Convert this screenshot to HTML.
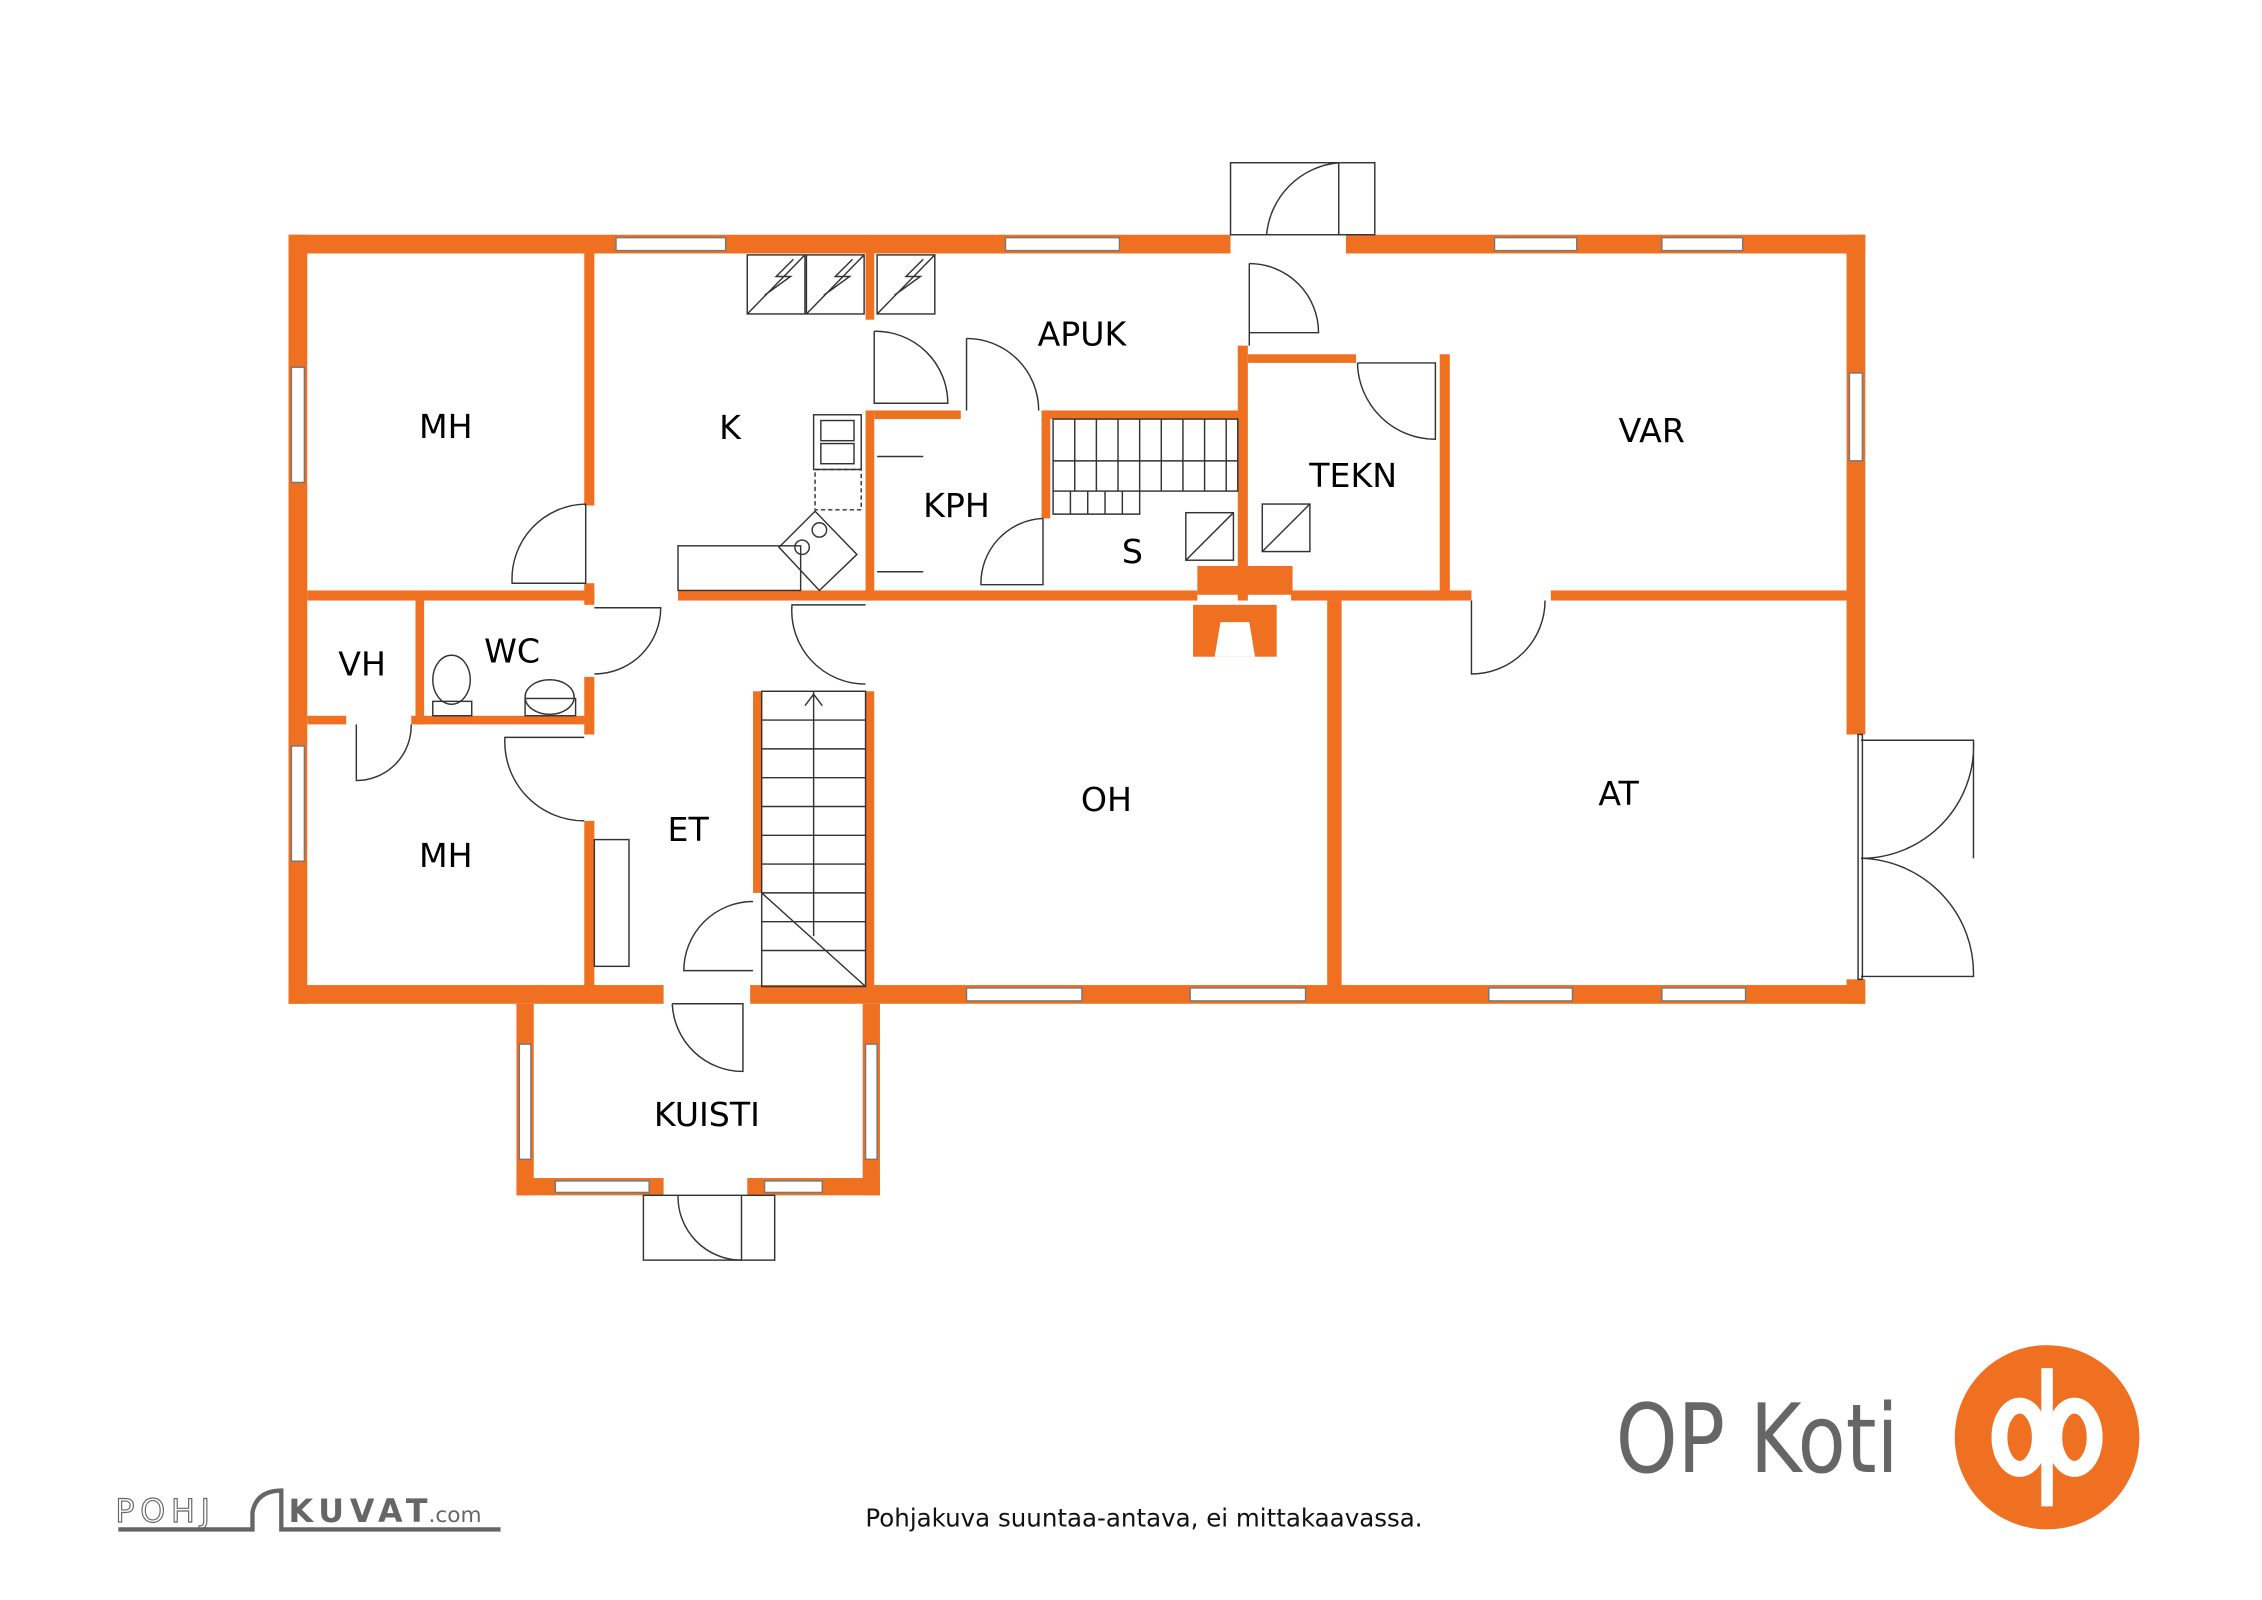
<!DOCTYPE html>
<html><head><meta charset="utf-8"><style>
html,body{margin:0;padding:0;background:#fff;width:2262px;height:1600px;overflow:hidden}
svg{display:block}
text{font-family:"DejaVu Sans","Liberation Sans",sans-serif}
</style></head><body>
<svg width="2262" height="1600" viewBox="0 0 1568 1111" preserveAspectRatio="none" xmlns="http://www.w3.org/2000/svg">
<g fill="#f07022">
<rect x="200" y="163" width="1093" height="13"/>
<rect x="200" y="163" width="13" height="534"/>
<rect x="1280" y="163" width="13" height="534"/>
<rect x="200" y="684" width="1093" height="13"/>
<rect x="405" y="176" width="7" height="175"/>
<rect x="405" y="405" width="7" height="15"/>
<rect x="213" y="410" width="199" height="7"/>
<rect x="470" y="410" width="136" height="7"/>
<rect x="600" y="410" width="230" height="7"/>
<rect x="895" y="410" width="125" height="7"/>
<rect x="1075" y="410" width="205" height="7"/>
<rect x="600" y="176" width="6" height="46"/>
<rect x="600" y="285" width="6" height="132"/>
<rect x="606" y="285" width="60" height="6"/>
<rect x="722" y="285" width="140" height="6"/>
<rect x="722" y="285" width="6" height="75"/>
<rect x="858" y="240" width="7" height="177"/>
<rect x="865" y="246" width="75" height="6"/>
<rect x="998" y="246" width="7" height="171"/>
<rect x="830" y="393" width="66" height="20"/>
<rect x="827" y="420" width="58" height="36"/>
<rect x="920" y="417" width="10" height="270"/>
<rect x="600" y="480" width="6" height="205"/>
<rect x="522" y="480" width="6" height="140"/>
<rect x="288" y="417" width="6" height="86"/>
<rect x="213" y="497" width="32" height="6"/>
<rect x="285" y="497" width="127" height="6"/>
<rect x="405" y="470" width="7" height="40"/>
<rect x="405" y="570" width="7" height="117"/>
<rect x="358" y="697" width="12" height="133"/>
<rect x="598" y="697" width="12" height="133"/>
<rect x="358" y="818" width="252" height="12"/>
</g>
<polygon points="842,456 846,432 866,432 870,456" fill="#fff"/>
<g fill="#fff">
<rect x="853" y="160" width="80" height="18"/>
<rect x="460" y="682" width="60" height="17"/>
<rect x="1278" y="510" width="17" height="170"/>
<rect x="460" y="816" width="58" height="16"/>
<rect x="240" y="495" width="45" height="10"/>
</g>
<g fill="#fff" stroke="#777" stroke-width="1">
<rect x="427" y="165" width="76" height="9"/>
<rect x="697" y="165" width="79" height="9"/>
<rect x="1036" y="165" width="57" height="9"/>
<rect x="1152" y="165" width="56" height="9"/>
<rect x="202" y="255" width="9" height="80"/>
<rect x="202" y="518" width="9" height="80"/>
<rect x="1282" y="259" width="9" height="61"/>
<rect x="670" y="686" width="80" height="9"/>
<rect x="825" y="686" width="80" height="9"/>
<rect x="1032" y="686" width="58" height="9"/>
<rect x="1152" y="686" width="58" height="9"/>
<rect x="360" y="725" width="8" height="80"/>
<rect x="600" y="725" width="8" height="80"/>
<rect x="385" y="820" width="65" height="8"/>
<rect x="530" y="820" width="40" height="8"/>
</g>
<g fill="none" stroke="#333" stroke-width="1">
<rect x="853" y="113" width="100" height="50"/>
<path d="M878 163 A55 55 0 0 1 928 113 M928 113 V163"/>
<path d="M866 183 V240 M866 183 A48 48 0 0 1 914 231 H866"/>
<path d="M406 350 V405 H355 A52 52 0 0 1 406 350"/>
<path d="M606 230 V280 H657 A50 50 0 0 0 606 230"/>
<path d="M670 235 V285 M670 235 A50 50 0 0 1 720 285"/>
<path d="M941 252 H995 V305 A54 54 0 0 1 941 252"/>
<path d="M723 360 V406 H680 A45 45 0 0 1 723 360"/>
<path d="M412 422 H458 A46 46 0 0 1 412 468"/>
<path d="M600 420 H549 A51 51 0 0 0 600 475"/>
<path d="M1020 417 V468 A51 51 0 0 0 1071 417"/>
<path d="M247 503 V542 A38 38 0 0 0 285 503"/>
<path d="M405 512 H350 A55 55 0 0 0 405 570"/>
<path d="M522 626 A48 48 0 0 0 474 674 H522"/>
<path d="M466 697 H515 V744 A49 49 0 0 1 466 697"/>
<rect x="446" y="830" width="91" height="45"/>
<path d="M470 830 A44 44 0 0 0 514 875 V830"/>
<path d="M1290 514 H1368 A78 78 0 0 1 1290 596 M1368 514 V596"/>
<path d="M1290 596 A80 80 0 0 1 1368 678 H1290"/>
<rect x="1288" y="510" width="3" height="170"/>
</g>
<g fill="none" stroke="#333" stroke-width="1">
<rect x="518" y="177" width="40" height="41"/><rect x="559" y="177" width="40" height="41"/><rect x="608" y="177" width="40" height="41"/>
<path d="M518 218 L558 177 M530 205 L548 192 L538 192 L550 180"/>
<path d="M559 218 L599 177 M571 205 L589 192 L579 192 L591 180"/>
<path d="M608 218 L648 177 M620 205 L638 192 L628 192 L640 180"/>
<rect x="470" y="379" width="85" height="31"/>
<rect x="564" y="288" width="33" height="38"/>
<rect x="569" y="292" width="23" height="14"/><rect x="569" y="308" width="23" height="14"/>
<rect x="565" y="326" width="32" height="28" stroke-dasharray="3 2"/>
<path d="M540 380 L565 355 L594 385 L568 410 Z"/>
<circle cx="556" cy="380" r="5"/><circle cx="568" cy="368" r="5"/>
<rect x="730" y="291" width="128" height="50"/>
<path d="M745 291 V341 M760 291 V341 M775 291 V341 M790 291 V341 M805 291 V341 M820 291 V341 M835 291 V341 M850 291 V341 M730 320 H858"/>
<path d="M730 341 V357 H790 V341 M742 341 V357 M754 341 V357 M766 341 V357 M778 341 V357"/>
<rect x="822" y="356" width="33" height="33"/><path d="M822 389 L855 356"/>
<rect x="875" y="350" width="33" height="33"/><path d="M875 383 L908 350"/>
<rect x="528" y="480" width="72" height="205"/>
<path d="M528 500 H600 M528 520 H600 M528 540 H600 M528 560 H600 M528 580 H600 M528 600 H600 M528 620 H600 M528 640 H600 M528 660 H600 M564 480 V650 M528 620 L600 685 M558 490 L564 482 L570 490"/>
<ellipse cx="313" cy="472" rx="13" ry="17"/><rect x="300" y="487" width="27" height="10"/>
<ellipse cx="381" cy="484" rx="17" ry="12"/><rect x="364" y="485" width="35" height="12"/>
<rect x="412" y="583" width="24" height="88"/>
<path d="M608 317 H640 M608 397 H640"/>
</g>
<g font-size="23" fill="#000" text-anchor="middle">
<text x="309" y="304">MH</text>
<text x="506" y="305">K</text>
<text x="750" y="240">APUK</text>
<text x="663" y="359">KPH</text>
<text x="785" y="391">S</text>
<text x="938" y="338">TEKN</text>
<text x="1145" y="307">VAR</text>
<text x="251" y="469">VH</text>
<text x="355" y="460">WC</text>
<text x="477" y="584">ET</text>
<text x="309" y="602">MH</text>
<text x="767" y="563">OH</text>
<text x="1122" y="559">AT</text>
<text x="490" y="782">KUISTI</text>
</g>
<text x="793" y="1060" font-size="17" text-anchor="middle" fill="#111">Pohjakuva suuntaa-antava, ei mittakaavassa.</text>
<text x="1218" y="1022" font-size="66" text-anchor="middle" fill="#666" textLength="196" lengthAdjust="spacingAndGlyphs">OP Koti</text>
<circle cx="1419" cy="998" r="64" fill="#f07022"/>
<g fill="none" stroke="#fff" stroke-width="11">
<ellipse cx="1400" cy="998" rx="14" ry="22"/>
<ellipse cx="1438" cy="998" rx="14" ry="22"/>
</g>
<rect x="1415" y="950" width="8" height="96" fill="#fff"/>
<text x="80" y="1057" font-size="22" fill="#fff" stroke="#666" stroke-width="0.8" letter-spacing="4">POHJ</text>
<text x="200" y="1057" font-size="22" font-weight="bold" fill="#666" letter-spacing="4">KUVAT</text>
<text x="297" y="1057" font-size="15" fill="#666">.com</text>
<path d="M82 1062 H175 V1050 Q178 1035 195 1035 V1062 H347" fill="none" stroke="#666" stroke-width="3"/>
</svg>
</body></html>
